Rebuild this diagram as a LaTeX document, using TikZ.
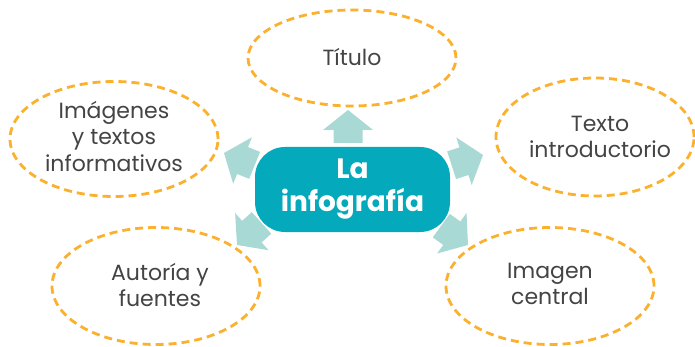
\documentclass[tikz,border=0pt]{standalone}
\usepackage{fontspec}
\setmainfont{Poppins}
\usetikzlibrary{shapes.geometric}
\definecolor{cmain}{HTML}{04A9BB}
\definecolor{carrow}{HTML}{A9D9D4}
\definecolor{cdash}{HTML}{FBB12D}
\definecolor{ctext}{HTML}{444444}
\tikzset{
  bubble/.style={ellipse, draw=cdash, line width=2.8pt, dash pattern=on 8pt off 5pt, inner sep=0pt},
  label text/.style={text=ctext, font=\fontsize{22}{26.5}\selectfont, align=center, inner sep=0pt},
  core/.style={rectangle, rounded corners=30pt, fill=cmain, text=white,
    font=\fontsize{28}{33}\selectfont\bfseries, minimum width=195pt, minimum height=85pt, align=center},
  blockarrow/.style={fill=carrow}
}
\newcommand{\fatarrow}[2]{%
  \fill[blockarrow, shift={#1}, rotate=#2] (0,0) -- (-20,25) -- (-20,14.5) -- (-33,14.5) -- (-33,-14.5) -- (-20,-14.5) -- (-20,-25) -- cycle;}
\begin{document}
\begin{tikzpicture}[x=1pt,y=-1pt]
\useasboundingbox[fill=white] (0,0) rectangle (695,347);
% ellipses
\node[bubble, minimum width=208pt, minimum height=96pt] (e1) at (352,58) {};
\node[bubble, minimum width=208pt, minimum height=115pt] (e2) at (114,139) {};
\node[bubble, minimum width=198pt, minimum height=118pt] (e3) at (595,137) {};
\node[bubble, minimum width=208pt, minimum height=117pt] (e4) at (156,286) {};
\node[bubble, minimum width=208pt, minimum height=117pt] (e5) at (550,286) {};
% texts
\node[label text] (t1) at (352,57) {Título};
\node[label text] (t2) at (114,136) {Imágenes\\y textos\\informativos};
\node[label text] (t3) at (600,137) {Texto\\introductorio};
\node[label text] (t4) at (160,285) {Autoría y\\fuentes};
\node[label text] (t5) at (550,284) {Imagen\\central};
% center
\node[core] (c) at (352.5,189.5) {La\\infografía};
% arrows
\fatarrow{(348,110)}{90}
\fatarrow{(224,153)}{158}
\fatarrow{(483,155)}{18}
\fatarrow{(468,245)}{-36}
\fatarrow{(237,245)}{-138}
\end{tikzpicture}
\end{document}
